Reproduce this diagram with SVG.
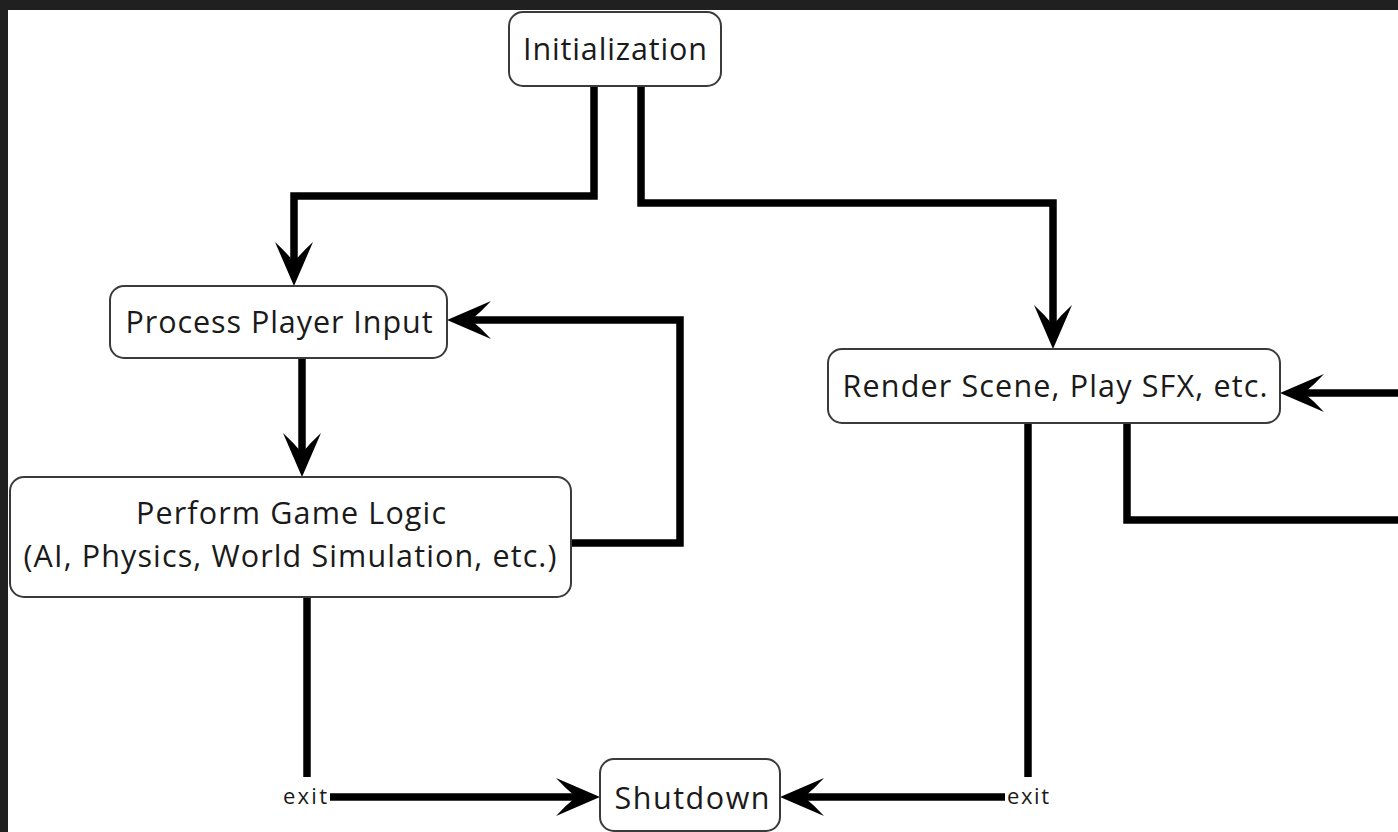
<svg xmlns="http://www.w3.org/2000/svg" width="1398" height="832" viewBox="0 0 1398 832">
<style>
.box{fill:#fff;stroke:#3a3a3a;stroke-width:2}
.lbl{font-family:"Open Sans","Noto Sans",sans-serif;font-size:30.5px;fill:#1a1a1a;text-anchor:middle}
.exit{font-family:"Open Sans","Noto Sans",sans-serif;font-size:22px;fill:#1a1a1a;text-anchor:middle}
.wire{fill:none;stroke:#000;stroke-width:7.5;stroke-linejoin:miter}
</style>
<defs>
<marker id="arr" markerUnits="userSpaceOnUse" markerWidth="80" markerHeight="80" refX="0" refY="0" viewBox="-40 -40 80 80" orient="auto" overflow="visible">
<path d="M24,0 L-20,-19 Q-10,-8 0,0 Q-10,8 -20,19 Z" fill="#000"/>
</marker>
</defs>
<rect x="0" y="0" width="1398" height="832" fill="#202020"/>
<rect x="8" y="10" width="1390" height="822" fill="#fff"/>
<g id="connectors">
<path class="wire" d="M594,86 V196 H294 V262" marker-end="url(#arr)"/>
<path class="wire" d="M641,86 V203 H1053 V325" marker-end="url(#arr)"/>
<path class="wire" d="M302,358 V453" marker-end="url(#arr)"/>
<path class="wire" d="M571,543 H680 V320 H471" marker-end="url(#arr)"/>
<path class="wire" d="M307,597 V777"/>
<path class="wire" d="M330,797 H576" marker-end="url(#arr)"/>
<path class="wire" d="M1028,423 V777"/>
<path class="wire" d="M1005,797 H804" marker-end="url(#arr)"/>
<path class="wire" d="M1127,423 V520 H1402"/>
<path class="wire" d="M1402,393 H1304" marker-end="url(#arr)"/>
<text class="exit" x="305" y="804" textLength="44">exit</text>
<text class="exit" x="1028" y="804" textLength="42">exit</text>
</g>
<g id="init">
<rect class="box" x="509" y="12" width="212" height="74" rx="14"/>
<text class="lbl" x="615" y="60" textLength="184">Initialization</text>
</g>
<g id="input">
<rect class="box" x="110" y="286" width="337" height="72" rx="14"/>
<text class="lbl" x="279" y="333" textLength="307">Process Player Input</text>
</g>
<g id="render">
<rect class="box" x="828" y="349" width="452" height="74" rx="14"/>
<text class="lbl" x="1055" y="397" textLength="425">Render Scene, Play SFX, etc.</text>
</g>
<g id="logic">
<rect class="box" x="10" y="477" width="561" height="120" rx="14"/>
<text class="lbl" x="291" y="524" textLength="310">Perform Game Logic</text>
<text class="lbl" x="290" y="567" textLength="533">(AI, Physics, World Simulation, etc.)</text>
</g>
<g id="shutdown">
<rect class="box" x="600" y="759" width="180" height="72" rx="14"/>
<text class="lbl" x="692" y="809" textLength="155">Shutdown</text>
</g>
</svg>
